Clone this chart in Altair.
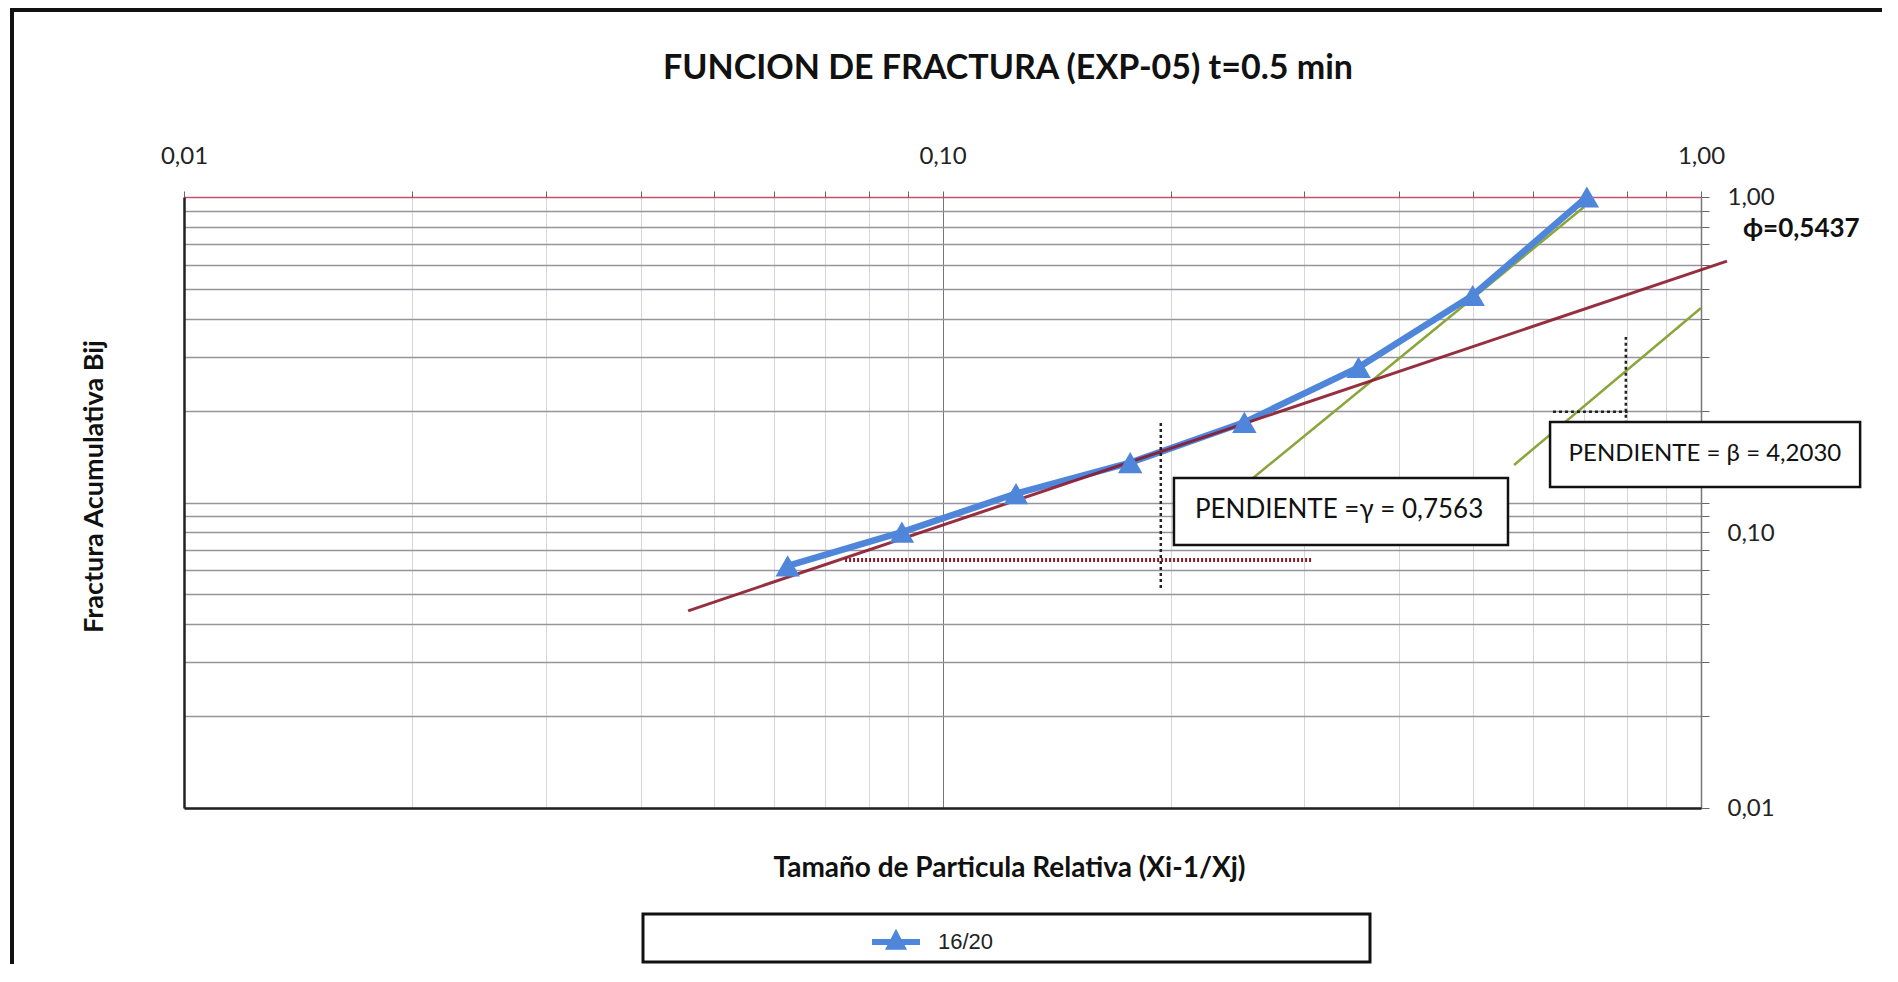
import altair as alt
import pandas as pd

# ---------------- data ----------------
x_rel = [0.0625, 0.0884, 0.125, 0.1768, 0.25, 0.3536, 0.5, 0.7071]
b_acum = [0.062, 0.080, 0.107, 0.135, 0.183, 0.277, 0.476, 1.0]
series_name = "16/20"

tick_values = [0.01, 0.02, 0.03, 0.04, 0.05, 0.06, 0.07, 0.08, 0.09,
               0.1, 0.2, 0.3, 0.4, 0.5, 0.6, 0.7, 0.8, 0.9, 1.0]
decade_values = [0.01, 0.1, 1.0]

# fitted / construction lines (x, y in data units)
fit_x = [0.0462, 1.082]
fit_y = [0.0442, 0.617]
beta_a_x = [0.2567, 0.701]
beta_a_y = [0.1203, 0.927]
beta_b_x = [0.567, 1.0]
beta_b_y = [0.1327, 0.433]
gam_dot_x = [0.0744, 0.307]
gam_dot_y = [0.0648, 0.0648]
vdot1_x = [0.194, 0.194]
vdot1_y = [0.0525, 0.182]
vdot2_x = [0.796, 0.796]
vdot2_y = [0.173, 0.348]
hdot2_x = [0.638, 0.80]
hdot2_y = [0.198, 0.198]

# annotation boxes (data units)
box_x = [0.2019, 0.6324]
box_x2 = [0.5566, 1.621]
box_y = [0.1203, 0.1834]
box_y2 = [0.0726, 0.1124]
gamma_text_x = [0.3333]
gamma_text_y = [0.0945]
gamma_text = ["PENDIENTE =\u03b3 = 0,7563"]
beta_text_x = [1.012]
beta_text_y = [0.1441]
beta_text = ["PENDIENTE = \u03b2 = 4,2030"]
phi_x = [1.136]
phi_y = [0.786]
phi_text = ["\u03d5=0,5437"]

title_text = "FUNCION DE FRACTURA (EXP-05) t=0.5 min"
x_title = "Tama\u00f1o de Particula Relativa (Xi-1/Xj)"
y_title = "Fractura Acumulativa Bij"

# ---------------- styling ----------------
FONT = "Lato"
BLUE = "#4f86d9"
MAROON = "#8b1a2b"
GREEN = "#8aa63a"
W, H = 1517, 611

xs = alt.Scale(type="log", domain=[0.01, 1], nice=False)
ys = alt.Scale(type="log", domain=[0.01, 1], nice=False)

label_expr = ("indexof([0.01, 0.1, 1], datum.value) >= 0 ? "
              "replace(format(datum.value, '.2f'), '.', ',') : ''")

series_df = pd.DataFrame({"x": x_rel, "b": b_acum, "serie": [series_name] * len(x_rel)})


def seg_df(xv, yv, name):
    return pd.DataFrame({"x": xv, "b": yv, "seg": [name] * len(xv)})


def plain_xy():
    return dict(
        x=alt.X("x:Q", scale=xs, axis=None),
        y=alt.Y("b:Q", scale=ys, axis=None),
    )


one = pd.DataFrame({"k": [0]})

# outer chart frame (decoration): top and left edges of the chart area
frame_top = alt.Chart(one).mark_rule(color="#111", strokeWidth=4).encode(
    x=alt.value(-172), x2=alt.value(1698), y=alt.value(-187))
frame_left = alt.Chart(one).mark_rule(color="#111", strokeWidth=4).encode(
    x=alt.value(-172), y=alt.value(-189), y2=alt.value(767))

# legend frame (decoration)
legend_box = alt.Chart(one).mark_rect(fill="white", stroke="#111", strokeWidth=3).encode(
    x=alt.value(459), x2=alt.value(1186), y=alt.value(717), y2=alt.value(765)
)

title = alt.Chart(pd.DataFrame({"t": [title_text]})).mark_text(
    font=FONT, fontSize=34, fontWeight="bold", color="#111", align="center", baseline="middle"
).encode(x=alt.value(824), y=alt.value(-128), text="t:N")

green = alt.Chart(pd.concat([seg_df(beta_a_x, beta_a_y, "a"), seg_df(beta_b_x, beta_b_y, "b")])).mark_line(
    color=GREEN, strokeWidth=2.5
).encode(detail="seg:N", **plain_xy())

blue_line = alt.Chart(series_df).mark_line(color=BLUE, strokeWidth=6.5).encode(
    x=alt.X("x:Q", scale=xs, axis=alt.Axis(
        orient="bottom", labels=False, ticks=False, grid=False, domainColor="#222", domainWidth=2.5,
        title=x_title, titleX=825, titleY=60, titleFont=FONT, titleFontSize=28, titleFontWeight="bold",
        titleColor="#111", titleBaseline="middle", titleAlign="center", zindex=1)),
    y=alt.Y("b:Q", scale=ys, axis=alt.Axis(
        orient="left", labels=False, ticks=False, grid=False, domainColor="#222", domainWidth=2.5,
        title=y_title, titleX=-90, titleY=289, titleAngle=270, titleFont=FONT, titleFontSize=27,
        titleFontWeight="bold", titleColor="#111", titleBaseline="middle", titleAlign="center", zindex=1)),
)

fit_line = alt.Chart(seg_df(fit_x, fit_y, "fit")).mark_line(color=MAROON, strokeWidth=3, opacity=0.9).encode(
    **plain_xy())

legend_symbol = ("M-1,-0.12L1,-0.12L1,0.12L-1,0.12Z"
                 "M0,-0.55L0.46,0.32L-0.46,0.32Z")

points = alt.Chart(series_df).mark_point(shape="triangle-up", filled=True, size=600, opacity=1).encode(
    x=alt.X("x:Q", scale=xs, axis=alt.Axis(
        orient="top", values=tick_values, labelExpr=label_expr, labelFlush=False, labelOverlap=False,
        tickSize=6, tickColor="#666", tickWidth=1, domain=False,
        grid=True, gridColor={"condition": {"test": "datum.value === 0.1", "value": "#777777"}, "value": "#d6d6d6"},
        gridWidth=1, labelFont=FONT, labelFontSize=24, labelColor="#222", labelPadding=23, title=None)),
    y=alt.Y("b:Q", scale=ys, axis=alt.Axis(
        orient="right", values=tick_values, labelExpr=label_expr, labelOverlap=False, labelFlush=False,
        labelOffset={"condition": {"test": "datum.value === 0.1", "value": 31}, "value": 0},
        tickSize=8, tickColor="#666", tickWidth=1, domainColor="#777", domainWidth=1.5,
        grid=True, gridColor={"condition": {"test": "datum.value === 1", "value": "#c8506a"}, "value": "#96939f"},
        gridWidth=1.5, labelFont=FONT, labelFontSize=24, labelColor="#222", labelPadding=18, title=None)),
    color=alt.Color("serie:N", scale=alt.Scale(domain=[series_name], range=[BLUE]), legend=alt.Legend(
        orient="none", legendX=688, legendY=721, title=None, symbolType=legend_symbol, symbolSize=2304,
        symbolStrokeWidth=0, labelFont="Liberation Sans", labelFontSize=22, labelColor="#222",
        labelOffset=18, padding=0)),
)

gam_dot = alt.Chart(seg_df(gam_dot_x, gam_dot_y, "g")).mark_line(
    color=MAROON, strokeWidth=4, strokeDash=[2, 2]).encode(**plain_xy())

black_dots = alt.Chart(pd.concat([seg_df(vdot1_x, vdot1_y, "v1"), seg_df(vdot2_x, vdot2_y, "v2"),
                                  seg_df(hdot2_x, hdot2_y, "h2")])).mark_line(
    color="#222", strokeWidth=2.5, strokeDash=[3, 3]).encode(detail="seg:N", **plain_xy())

boxes_df = pd.DataFrame({"x": box_x, "x2": box_x2, "b": box_y, "b2": box_y2})
boxes = alt.Chart(boxes_df).mark_rect(fill="white", stroke="#111", strokeWidth=2.5).encode(
    x=alt.X("x:Q", scale=xs, axis=None), x2="x2:Q",
    y=alt.Y("b:Q", scale=ys, axis=None), y2="b2:Q")

gamma_label = alt.Chart(pd.DataFrame({"x": gamma_text_x, "b": gamma_text_y, "t": gamma_text})).mark_text(
    font=FONT, fontSize=26, color="#111", align="center", baseline="middle").encode(text="t:N", **plain_xy())

beta_label = alt.Chart(pd.DataFrame({"x": beta_text_x, "b": beta_text_y, "t": beta_text})).mark_text(
    font=FONT, fontSize=24, color="#111", align="center", baseline="middle").encode(text="t:N", **plain_xy())

phi_label = alt.Chart(pd.DataFrame({"x": phi_x, "b": phi_y, "t": phi_text})).mark_text(
    font=FONT, fontSize=26, fontWeight="bold", color="#111", align="left", baseline="middle").encode(
    text="t:N", **plain_xy())

chart = alt.layer(
    frame_top, frame_left, legend_box, title, green, blue_line, fit_line, points, gam_dot, black_dots,
    boxes, gamma_label, beta_label, phi_label
).resolve_axis(x="independent", y="independent").properties(
    width=W, height=H,
    autosize=alt.AutoSizeParams(type="none"),
    padding={"left": 176, "top": 189, "right": 181, "bottom": 156},
    background="white",
).configure_view(strokeWidth=0)

chart.save("out.html", embed_options={"renderer": "svg", "actions": False})
